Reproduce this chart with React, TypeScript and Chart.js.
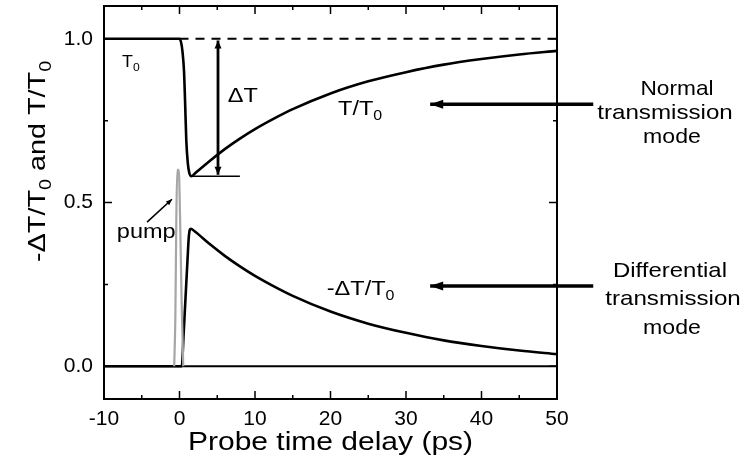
import React, { useEffect, useRef } from "react";
import { Chart, registerables } from "chart.js";

Chart.register(...registerables);

const FONT = "'Liberation Sans', Arial, Helvetica, sans-serif";

// Axis ticks
const xTickValues = [-10, 0, 10, 20, 30, 40, 50];
const xMinorTicks = [-5, 5, 15, 25, 35, 45];
const yTickValues = [0, 0.5, 1.0];
const yMinorTicks = [0.25, 0.75];

// T/T0 (normal transmission)
const normalTime = [-10, 0, 0.2, 0.4, 0.6, 0.75, 0.9, 1.1, 1.3, 1.6, 2, 4, 6, 8, 10, 12.5, 15, 20, 25, 30, 35, 40, 45, 50];
const normalValue = [1, 1, 0.99, 0.96, 0.9, 0.8, 0.69, 0.62, 0.59, 0.58, 0.588, 0.627, 0.663, 0.695, 0.724, 0.756, 0.785, 0.833, 0.87, 0.898, 0.921, 0.938, 0.952, 0.963];

// -ΔT/T0 (differential transmission)
const diffTime = [-10, 0.3, 0.55, 0.8, 1.05, 1.25, 1.5, 2, 4, 6, 8, 10, 12.5, 15, 20, 25, 30, 35, 40, 45, 50];
const diffValue = [0, 0, 0.1, 0.21, 0.32, 0.4, 0.42, 0.412, 0.373, 0.337, 0.305, 0.276, 0.244, 0.215, 0.167, 0.13, 0.102, 0.079, 0.062, 0.048, 0.037];

// pump pulse
const pumpTime = [-0.7, -0.55, -0.42, -0.3, -0.1, 0.08, 0.28, 0.5];
const pumpValue = [0, 0.15, 0.45, 0.6, 0.6, 0.45, 0.2, 0];

// reference lines / markers
const zeroLineTime = [-10, 50];
const zeroLineValue = [0, 0];
const t0LineTime = [0, 50];
const t0LineValue = [1, 1];
const dtLevelTime = [1.6, 8];
const dtLevelValue = [0.58, 0.58];
const dtArrowTime = [5.1, 5.1];
const dtArrowValue = [0.995, 0.585];
const normalArrowTime = [33.2, 54.8];
const normalArrowValue = [0.8, 0.8];
const diffArrowTime = [33.2, 54.8];
const diffArrowValue = [0.245, 0.245];
const pumpPointerTime = [-4.3, -1.0];
const pumpPointerValue = [0.44, 0.51];

const zip = (xs: number[], ys: number[]) => xs.map((x, i) => ({ x, y: ys[i] }));

type Part = [string, boolean];

function drawRich(
  ctx: CanvasRenderingContext2D,
  parts: Part[],
  x: number,
  y: number,
  size: number,
  stretch: number,
  align: "left" | "center",
  angle = 0
) {
  ctx.save();
  ctx.translate(x, y);
  if (angle) ctx.rotate(angle);
  ctx.scale(stretch, 1);
  ctx.fillStyle = "#000";
  ctx.textAlign = "left";
  ctx.textBaseline = "alphabetic";
  const subSize = size * 0.68;
  const widths = parts.map(([t, sub]) => {
    ctx.font = `${sub ? subSize : size}px ${FONT}`;
    return ctx.measureText(t).width;
  });
  const total = widths.reduce((a, b) => a + b, 0);
  let cx = align === "center" ? -total / 2 : 0;
  parts.forEach(([t, sub], i) => {
    ctx.font = `${sub ? subSize : size}px ${FONT}`;
    ctx.fillText(t, cx, sub ? size * 0.24 : 0);
    cx += widths[i];
  });
  ctx.restore();
}

function arrowHead(ctx: CanvasRenderingContext2D, tip: { x: number; y: number }, from: { x: number; y: number }, len: number, half: number) {
  const dx = tip.x - from.x;
  const dy = tip.y - from.y;
  const d = Math.hypot(dx, dy) || 1;
  const ux = dx / d;
  const uy = dy / d;
  const bx = tip.x - ux * len;
  const by = tip.y - uy * len;
  ctx.beginPath();
  ctx.moveTo(tip.x, tip.y);
  ctx.lineTo(bx - uy * half, by + ux * half);
  ctx.lineTo(bx + uy * half, by - ux * half);
  ctx.closePath();
  ctx.fill();
}

const framePlugin = {
  id: "framePlugin",
  afterDatasetsDraw(chart: any) {
    const ctx: CanvasRenderingContext2D = chart.ctx;
    const { left, right, top, bottom } = chart.chartArea;
    const xs = chart.scales.x;
    const ys = chart.scales.y;
    ctx.save();
    ctx.fillStyle = "#000";
    chart.data.datasets.forEach((ds: any, i: number) => {
      if (!ds.arrow) return;
      const pts = chart.getDatasetMeta(i).data;
      const n = pts.length;
      if (ds.arrow === "start" || ds.arrow === "both") arrowHead(ctx, pts[0], pts[1], ds.headLen, ds.headHalf);
      if (ds.arrow === "end" || ds.arrow === "both") arrowHead(ctx, pts[n - 1], pts[n - 2], ds.headLen, ds.headHalf);
    });
    ctx.strokeStyle = "#000";
    ctx.lineWidth = 2;
    ctx.strokeRect(left, top, right - left, bottom - top);
    ctx.lineWidth = 1.5;
    ctx.beginPath();
    const xt = (v: number, len: number) => {
      const p = xs.getPixelForValue(v);
      ctx.moveTo(p, bottom);
      ctx.lineTo(p, bottom - len);
      ctx.moveTo(p, top);
      ctx.lineTo(p, top + len);
    };
    const yt = (v: number, len: number) => {
      const p = ys.getPixelForValue(v);
      ctx.moveTo(left, p);
      ctx.lineTo(left + len, p);
      ctx.moveTo(right, p);
      ctx.lineTo(right - len, p);
    };
    xTickValues.forEach((v) => xt(v, 8));
    xMinorTicks.forEach((v) => xt(v, 4));
    yTickValues.forEach((v) => yt(v, 8));
    yMinorTicks.forEach((v) => yt(v, 4));
    ctx.stroke();
    ctx.restore();
  },
  afterDraw(chart: any) {
    const ctx: CanvasRenderingContext2D = chart.ctx;
    const xs = chart.scales.x;
    const ys = chart.scales.y;
    const { left, right, top, bottom } = chart.chartArea;
    const P = (t: number, v: number) => [xs.getPixelForValue(t), ys.getPixelForValue(v)];
    let p = P(-7.6, 0.915);
    drawRich(ctx, [["T", false], ["0", true]], p[0], p[1], 17, 1.05, "left");
    p = P(6.4, 0.806);
    drawRich(ctx, [["ΔT", false]], p[0], p[1], 21, 1.12, "left");
    p = P(21.0, 0.768);
    drawRich(ctx, [["T/T", false], ["0", true]], p[0], p[1], 21, 1.12, "left");
    p = P(19.5, 0.218);
    drawRich(ctx, [["-ΔT/T", false], ["0", true]], p[0], p[1], 21, 1.12, "left");
    p = P(-8.3, 0.392);
    drawRich(ctx, [["pump", false]], p[0], p[1], 21, 1.12, "left");

    const r = right;
    drawRich(ctx, [["Normal", false]], r + 120, 95, 21, 1.08, "center");
    drawRich(ctx, [["transmission", false]], r + 108, 119, 21, 1.15, "center");
    drawRich(ctx, [["mode", false]], r + 115, 143, 21, 1.1, "center");
    drawRich(ctx, [["Differential", false]], r + 113, 277, 21, 1.14, "center");
    drawRich(ctx, [["transmission", false]], r + 116, 305, 21, 1.15, "center");
    drawRich(ctx, [["mode", false]], r + 115, 334, 21, 1.1, "center");

    drawRich(ctx, [["Probe time delay (ps)", false]], (left + right) / 2, 450, 25, 1.2, "center");
    drawRich(
      ctx,
      [["-ΔT/T", false], ["0", true], [" and T/T", false], ["0", true]],
      45,
      (top + bottom) / 2 - 41,
      24,
      1.2,
      "center",
      -Math.PI / 2
    );
  },
};

export default function App() {
  const ref = useRef<HTMLCanvasElement>(null);
  useEffect(() => {
    const black = "#000";
    const line = (data: any[], extra: any = {}) => ({
      data,
      borderColor: black,
      backgroundColor: black,
      borderWidth: 2,
      pointRadius: 0,
      fill: false,
      ...extra,
    });
    const chart = new Chart(ref.current as HTMLCanvasElement, {
      type: "line",
      data: {
        datasets: [
          line(zip(pumpTime, pumpValue), { borderColor: "#a6a6a6", borderWidth: 2.2, cubicInterpolationMode: "monotone" }),
          line(zip(zeroLineTime, zeroLineValue), { borderWidth: 2 }),
          line(zip(t0LineTime, t0LineValue), { borderWidth: 2, borderDash: [9, 7] }),
          line(zip(normalTime, normalValue), { borderWidth: 2.6, cubicInterpolationMode: "monotone" }),
          line(zip(diffTime, diffValue), { borderWidth: 2.6, cubicInterpolationMode: "monotone" }),
          line(zip(dtLevelTime, dtLevelValue), { borderWidth: 1.5 }),
          line(zip(dtArrowTime, dtArrowValue), { borderWidth: 2.8, arrow: "both", headLen: 8, headHalf: 3.5 }),
          line(zip(normalArrowTime, normalArrowValue), { borderWidth: 3.5, clip: false, arrow: "start", headLen: 13, headHalf: 4.5 }),
          line(zip(diffArrowTime, diffArrowValue), { borderWidth: 3.5, clip: false, arrow: "start", headLen: 13, headHalf: 4.5 }),
          line(zip(pumpPointerTime, pumpPointerValue), { borderWidth: 1.6, arrow: "end", headLen: 6, headHalf: 2.5 }),
        ] as any,
      },
      options: {
        responsive: false,
        animation: false,
        devicePixelRatio: 1,
        layout: { padding: { left: 0, right: 190, top: 6, bottom: 0 } },
        plugins: { legend: { display: false }, tooltip: { enabled: false } },
        scales: {
          x: {
            type: "linear",
            min: -10,
            max: 50,
            afterBuildTicks: (s: any) => {
              s.ticks = xTickValues.map((v) => ({ value: v }));
            },
            afterFit: (s: any) => {
              s.height = 66;
              s.paddingLeft = 0;
              s.paddingRight = 0;
              s.paddingTop = 0;
              s.paddingBottom = 0;
            },
            grid: { display: false, drawTicks: false },
            border: { display: false },
            ticks: {
              font: { family: FONT, size: 21 },
              color: black,
              padding: 8,
              maxRotation: 0,
              autoSkip: false,
              callback: (v: any) => String(v),
            },
          },
          y: {
            type: "linear",
            min: -0.1,
            max: 1.1,
            afterBuildTicks: (s: any) => {
              s.ticks = yTickValues.map((v) => ({ value: v }));
            },
            afterFit: (s: any) => {
              s.width = 104;
              s.paddingLeft = 0;
              s.paddingRight = 0;
              s.paddingTop = 0;
              s.paddingBottom = 0;
            },
            grid: { display: false, drawTicks: false },
            border: { display: false },
            ticks: {
              font: { family: FONT, size: 21 },
              color: black,
              padding: 11,
              autoSkip: false,
              callback: (v: any) => Number(v).toFixed(1),
            },
          },
        },
      } as any,
      plugins: [framePlugin],
    });
    return () => chart.destroy();
  }, []);
  return (
    <div style={{ position: "fixed", left: 0, top: 0, width: 747, height: 465, background: "#fff" }}>
      <canvas ref={ref} width={747} height={465} style={{ display: "block" }} />
    </div>
  );
}
